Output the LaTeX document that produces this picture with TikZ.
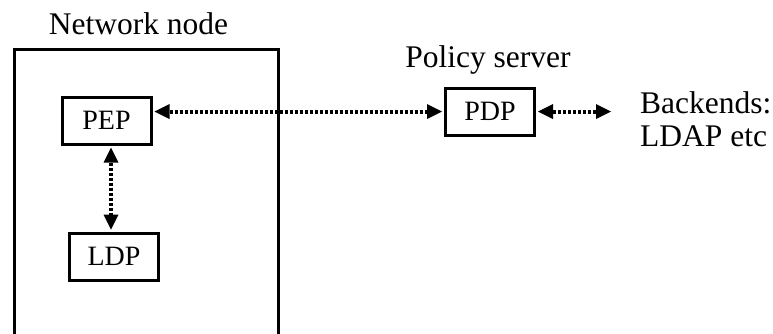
\documentclass[tikz,border=0pt]{standalone}
\usepackage{fontspec}
\setmainfont{Liberation Serif}
\usetikzlibrary{arrows.meta}
\tikzset{
  boxnode/.style={draw, line width=3pt, minimum width=89pt, minimum height=47pt, inner sep=0pt, font=\fontsize{28}{30}\selectfont},
  lbl/.style={inner sep=0pt, font=\fontsize{31.5}{33}\selectfont},
  darr/.style={line width=4pt, dash pattern=on 3pt off 2pt, {Triangle[length=15pt,width=15pt,line width=0pt]}-{Triangle[length=15pt,width=15pt,line width=0pt]}, shorten <=2pt, shorten >=2pt}
}
\begin{document}
\begin{tikzpicture}[x=1pt,y=-1pt]
\useasboundingbox (0,0) rectangle (773,333);
% outer network node box (open at bottom)
\draw[line width=3pt] (14,340) -- (14,49) -- (278,49) -- (278,340);
\node[lbl, anchor=base] (nnlabel) at (138.5,34) {Network node};
\node[boxnode] (PEP) at (106.5,120.5) {PEP};
\node[boxnode] (LDP) at (114,256.5) {LDP};
\node[boxnode] (PDP) at (490,111.5) {PDP};
\node[lbl, anchor=base] (pslabel) at (488,67) {Policy server};
\node[lbl, anchor=base west] (backends) at (640,113) {Backends:};
\node[lbl, anchor=base west] (ldapetc) at (640,146) {LDAP etc};
\coordinate (bend) at (613,111.5);
\draw[darr] (PEP.east |- PDP.west) -- (PDP.west);
\draw[darr] ([xshift=4.5pt]PEP.south) -- ([xshift=4.5pt]PEP.south |- LDP.north);
\draw[darr] (PDP.east) -- (bend);
\end{tikzpicture}
\end{document}
